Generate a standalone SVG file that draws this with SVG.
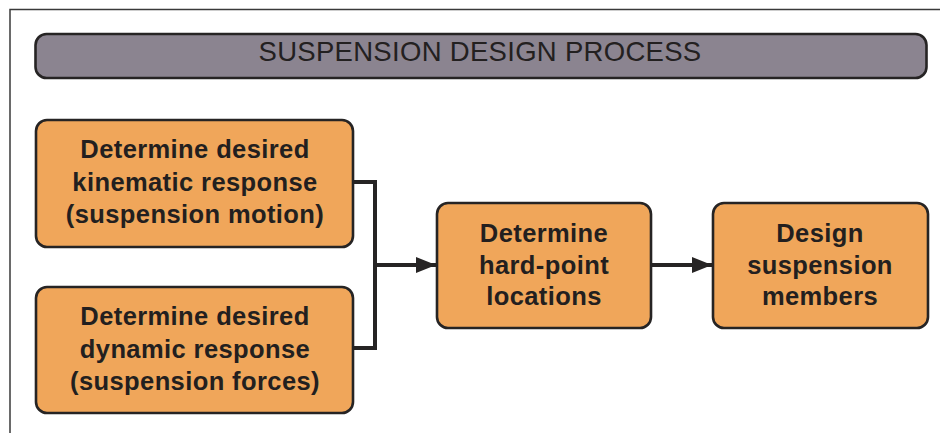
<svg xmlns="http://www.w3.org/2000/svg" width="940" height="433" viewBox="0 0 940 433">
<defs>
<style>
.box{fill:#f0a65a;stroke:#262424;stroke-width:2.6}
.lbl{font-family:"Liberation Sans",Arial,sans-serif;font-weight:bold;font-size:25.5px;letter-spacing:0.4px;fill:#231f1f;text-anchor:middle}
.conn{fill:none;stroke:#262424;stroke-width:4}
</style>
<marker id="arr" viewBox="0 0 20 16" refX="20" refY="8" markerWidth="20" markerHeight="16" markerUnits="userSpaceOnUse" orient="auto">
<path d="M0,0 L20,8 L0,16 Z" fill="#262424"/>
</marker>
</defs>
<rect width="940" height="433" fill="#ffffff"/>
<path d="M10,433 L10,9.5 L940,9.5" fill="none" stroke="#3a3a3a" stroke-width="1.5"/>
<g id="title">
<rect x="35.5" y="34" width="891" height="44" rx="11" fill="#8b8490" stroke="#262424" stroke-width="2.6"/>
<text x="480" y="61" font-family="'Liberation Sans',Arial,sans-serif" font-size="27.5" letter-spacing="0.3" fill="#232020" text-anchor="middle">SUSPENSION DESIGN PROCESS</text>
</g>
<g id="kinematic">
<rect class="box" x="36" y="120" width="317" height="127" rx="11"/>
<text class="lbl" x="195" y="158">Determine desired</text>
<text class="lbl" x="195" y="191">kinematic response</text>
<text class="lbl" x="195" y="223">(suspension motion)</text>
</g>
<g id="dynamic">
<rect class="box" x="36" y="287" width="317" height="126" rx="11"/>
<text class="lbl" x="195" y="325">Determine desired</text>
<text class="lbl" x="195" y="358">dynamic response</text>
<text class="lbl" x="195" y="390">(suspension forces)</text>
</g>
<g id="hardpoint">
<rect class="box" x="437" y="203" width="214" height="125" rx="11"/>
<text class="lbl" x="544" y="242">Determine</text>
<text class="lbl" x="544" y="274">hard-point</text>
<text class="lbl" x="544" y="305">locations</text>
</g>
<g id="members">
<rect class="box" x="713" y="203" width="215" height="125" rx="11"/>
<text class="lbl" x="820" y="242">Design</text>
<text class="lbl" x="820" y="274">suspension</text>
<text class="lbl" x="820" y="305">members</text>
</g>
<g id="connectors">
<path class="conn" d="M353,182 L375,182 L375,348 L353,348"/>
<path class="conn" d="M375,265 L436,265" marker-end="url(#arr)"/>
<path class="conn" d="M652,265 L712,265" marker-end="url(#arr)"/>
</g>
</svg>
